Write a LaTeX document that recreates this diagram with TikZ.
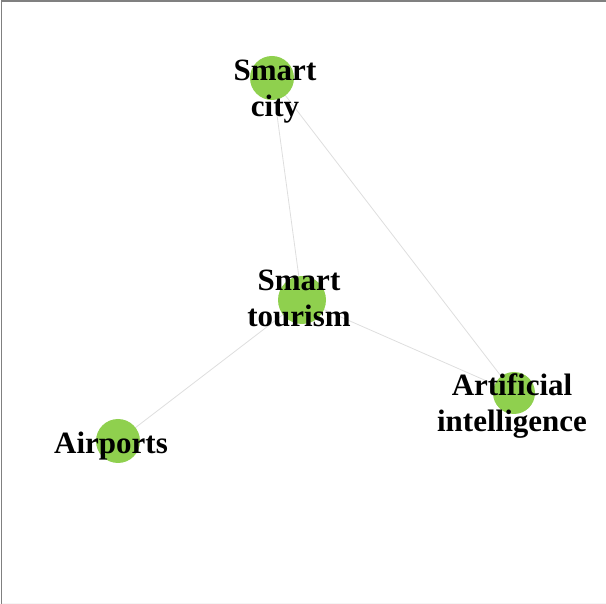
\documentclass[tikz,border=0pt]{standalone}
\usepackage{fontspec}
\setmainfont{Liberation Serif}
\usetikzlibrary{backgrounds}
\definecolor{nodegreen}{RGB}{143,208,78}
\definecolor{edgegray}{RGB}{222,222,222}

\begin{document}
\begin{tikzpicture}[x=1pt, y=-1pt,
    dot/.style={circle, fill=nodegreen, inner sep=0pt},
    word/.style={align=center, font=\fontsize{31}{36}\selectfont\bfseries, inner sep=0pt},
    link/.style={edgegray, line width=0.8pt}]
    % Frame
    \useasboundingbox (0,0) rectangle (606,604);
    \draw[gray, line width=1.8pt] (1.5,604) -- (1.5,0.9) -- (606,0.9);
    \draw[gray!8, line width=1pt] (1.5,603.5) -- (606,603.5);

    % Circles
    \node[dot, minimum size=44pt] (city) at (272,78) {};
    \node[dot, minimum size=48pt] (tourism) at (302,300) {};
    \node[dot, minimum size=42pt] (ai) at (514,393) {};
    \node[dot, minimum size=44pt] (airports) at (118,441) {};

    % Edges
    \begin{scope}[on background layer]
        \draw[link] (city.center) -- (tourism.center);
        \draw[link] (city.center) -- (ai.center);
        \draw[link] (tourism.center) -- (ai.center);
        \draw[link] (tourism.center) -- (airports.center);
    \end{scope}

    % Labels
    \node[word] (city-l) at (275,92) {Smart\\city};
    \node[word] (tourism-l) at (299,298) {Smart\\tourism};
    \node[word] (ai-l) at (512,406) {Artificial\\intelligence};
    \node[word] (airports-l) at (111,446) {Airports};
\end{tikzpicture}
\end{document}
